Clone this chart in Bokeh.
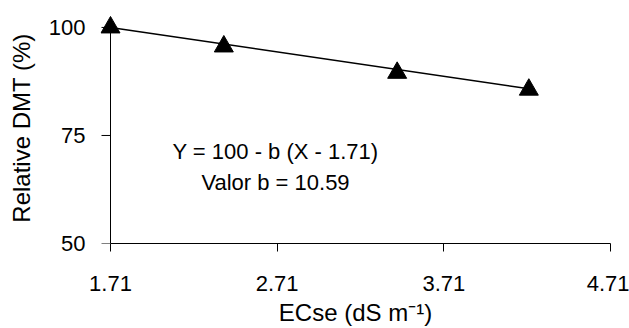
import math
from bokeh.plotting import figure
from bokeh.models import FixedTicker, Range1d
from bokeh.embed import file_html
from bokeh.resources import INLINE
from bokeh.core.properties import value

# Data
ecse = [1.71, 2.39, 3.43, 4.22]
rel_dmt = [100.0, 95.6, 89.5, 85.6]
fit_x = [1.71, 4.22]
fit_y = [100.0, 85.8]
x_ticks = [1.71, 2.71, 3.71, 4.71]
x_tick_labels = ["1.71", "2.71", "3.71", "4.71"]
y_ticks = [50, 75, 100]
y_tick_labels = ["50", "75", "100"]
eq_lines = ["Y = 100 - b (X - 1.71)", "Valor b = 10.59"]
eq_x = [2.70, 2.70]
eq_y = [71.4, 64.1]
x_title = "ECse (dS m\u207b\u00b9)"
y_title = "Relative DMT (%)"

FONT = "Liberation Sans"

p = figure(width=629, height=328,
           x_range=Range1d(1.65, 4.71), y_range=Range1d(50, 103.46),
           output_backend="svg", toolbar_location=None,
           min_border_left=100, min_border_right=19,
           min_border_top=12, min_border_bottom=84)
p.outline_line_color = None
p.xgrid.visible = False
p.ygrid.visible = False
p.background_fill_color = "white"
p.border_fill_color = "white"

# y axis line and outward ticks at x = 1.71 (drawn inside the frame)
p.line([x_ticks[0], x_ticks[0]], [y_ticks[0], y_ticks[-1]],
       line_color="black", line_width=1)
p.ray(x=[x_ticks[0]] * len(y_ticks), y=y_ticks, length=9, length_units="screen",
      angle=math.pi, line_color="black", line_width=1)

p.line(fit_x, fit_y, line_width=1.5, line_color="black")
p.scatter(ecse, rel_dmt, marker="triangle", size=19,
          fill_color="black", line_color="black")
p.text(eq_x, eq_y, text=eq_lines, text_font=value(FONT), text_font_size="22px",
       text_align="center", text_baseline="alphabetic", text_color="black")

# x axis
xa = p.xaxis[0]
xa.ticker = FixedTicker(ticks=x_ticks)
xa.major_label_overrides = {t: l for t, l in zip(x_ticks, x_tick_labels)}
xa.bounds = (x_ticks[0], x_ticks[-1])
xa.axis_line_color = "black"
xa.major_tick_line_color = "black"
xa.major_tick_in = 0
xa.major_tick_out = 8
xa.minor_tick_line_color = None
xa.major_label_text_font = FONT
xa.major_label_text_font_size = "22px"
xa.major_label_text_color = "black"
xa.major_label_standoff = 24
xa.axis_label = x_title
xa.axis_label_standoff = 5

# y axis: tick labels and title (line and ticks drawn above at x = 1.71)
ya = p.yaxis[0]
ya.ticker = FixedTicker(ticks=y_ticks)
ya.major_label_overrides = {t: l for t, l in zip(y_ticks, y_tick_labels)}
ya.axis_line_color = None
ya.major_tick_line_color = None
ya.major_tick_in = 0
ya.major_tick_out = 0
ya.minor_tick_line_color = None
ya.major_label_text_font = FONT
ya.major_label_text_font_size = "22px"
ya.major_label_text_color = "black"
ya.major_label_standoff = 15
ya.axis_label = y_title
ya.axis_label_standoff = 11

for ax in (xa, ya):
    ax.axis_label_text_font = FONT
    ax.axis_label_text_font_size = "24px"
    ax.axis_label_text_font_style = "normal"
    ax.axis_label_text_color = "black"

open("out.html", "w").write(file_html(p, INLINE))
